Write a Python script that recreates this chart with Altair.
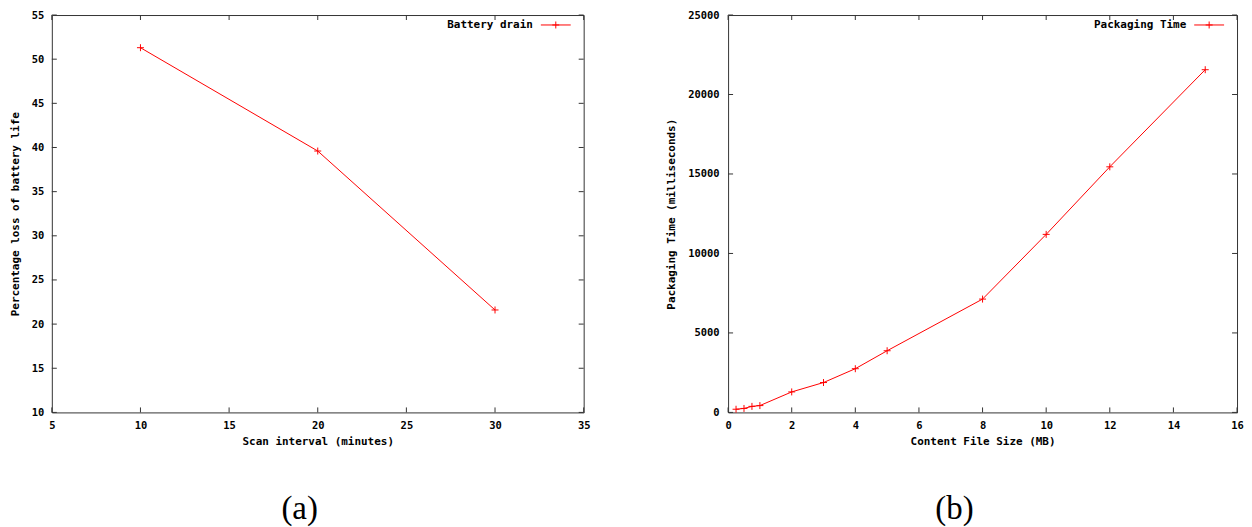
import altair as alt
import pandas as pd

# Panel (a): battery drain
scan_interval = [10, 20, 30]
battery_drain = [51.3, 39.6, 21.6]
xa_ticks = [5, 10, 15, 20, 25, 30, 35]
ya_ticks = [10, 15, 20, 25, 30, 35, 40, 45, 50, 55]

# Panel (b): packaging time
file_size = [0.25, 0.5, 0.75, 1, 2, 3, 4, 5, 8, 10, 12, 15]
pack_time = [200, 250, 380, 430, 1290, 1880, 2750, 3880, 7130, 11200, 15450, 21560]
xb_ticks = [0, 2, 4, 6, 8, 10, 12, 14, 16]
yb_ticks = [0, 5000, 10000, 15000, 20000, 25000]

MONO = "DejaVu Sans Mono"
RED = "#ff0000"
BORDER = "#333333"
PLUS = "M-1,0L1,0M0,-1L0,1"
H = 399


def panel(xs, ys, xdom, ydom, xticks, yticks, xtitle, ytitle, legend, caption, W, lpad):
    df = pd.DataFrame({"x": xs, "y": ys})
    xscale = alt.Scale(domain=xdom, nice=False, zero=False)
    yscale = alt.Scale(domain=ydom, nice=False, zero=False)
    xaxis = alt.Axis(values=xticks, title=xtitle, grid=False, ticks=False,
                     domain=False, labelPadding=8, titlePadding=5,
                     format="d", labelFlush=False)
    yaxis = alt.Axis(values=yticks, title=ytitle, grid=False, ticks=False,
                     domain=False, labelPadding=lpad, titlePadding=11,
                     format="d")
    base = alt.Chart(df)
    line = base.mark_line(color=RED, strokeWidth=1).encode(
        x=alt.X("x:Q", scale=xscale, axis=xaxis),
        y=alt.Y("y:Q", scale=yscale, axis=yaxis),
    )
    pts = base.mark_point(shape=PLUS, filled=False, stroke=RED, strokeWidth=1,
                          size=49, opacity=1).encode(
        x=alt.X("x:Q", scale=xscale, axis=xaxis),
        y=alt.Y("y:Q", scale=yscale, axis=yaxis))

    xt = alt.Chart(pd.DataFrame({"x": xticks}))
    yt = alt.Chart(pd.DataFrame({"y": yticks}))
    tick_b = xt.mark_rule(color=BORDER).encode(
        x=alt.X("x:Q", scale=xscale, axis=xaxis), y=alt.value(H), y2=alt.value(H - 5))
    tick_t = xt.mark_rule(color=BORDER).encode(
        x=alt.X("x:Q", scale=xscale, axis=xaxis), y=alt.value(0), y2=alt.value(5))
    tick_l = yt.mark_rule(color=BORDER).encode(
        y=alt.Y("y:Q", scale=yscale, axis=yaxis), x=alt.value(0), x2=alt.value(5))
    tick_r = yt.mark_rule(color=BORDER).encode(
        y=alt.Y("y:Q", scale=yscale, axis=yaxis), x=alt.value(W), x2=alt.value(W - 5))

    ld = alt.Chart(pd.DataFrame({"label": [legend]}))
    leg_text = ld.mark_text(align="right", baseline="middle", font=MONO,
                            fontWeight="bold", fontSize=11, color="black").encode(
        x=alt.value(W - 51), y=alt.value(10), text="label:N")
    leg_line = ld.mark_rule(color=RED, strokeWidth=1).encode(
        x=alt.value(W - 43), x2=alt.value(W - 13), y=alt.value(10))
    leg_pt = ld.mark_point(shape=PLUS, filled=False, stroke=RED, strokeWidth=1,
                           size=49, opacity=1).encode(x=alt.value(W - 28), y=alt.value(10))

    return alt.layer(line, pts, tick_b, tick_t, tick_l, tick_r,
                     leg_text, leg_line, leg_pt).properties(
        width=W, height=H,
        title=alt.TitleParams(caption, orient="bottom", anchor="middle", frame="bounds",
                              font="Liberation Serif", fontSize=33, fontWeight="normal",
                              offset=47, color="black"),
    )


pa = panel(scan_interval, battery_drain, [5, 35], [10, 55], xa_ticks, ya_ticks,
           "Scan interval (minutes)", "Percentage loss of battery life",
           "Battery drain", "(a)", 534, 8)
pb = panel(file_size, pack_time, [0, 16], [0, 25000], xb_ticks, yb_ticks,
           "Content File Size (MB)", "Packaging Time (milliseconds)",
           "Packaging Time", "(b)", 511, 9)

chart = alt.hconcat(pa, pb, spacing=74).configure(
    background="white", padding={"left": 0, "top": 0, "right": 0, "bottom": 0}
).configure_view(
    stroke=BORDER, strokeWidth=1
).configure_axis(
    labelFont=MONO, labelFontWeight="bold", labelFontSize=10.5, labelColor="black",
    titleFont=MONO, titleFontWeight="bold", titleFontSize=11, titleColor="black",
)

chart.save("out.html", embed_options={"renderer": "svg", "actions": False})
